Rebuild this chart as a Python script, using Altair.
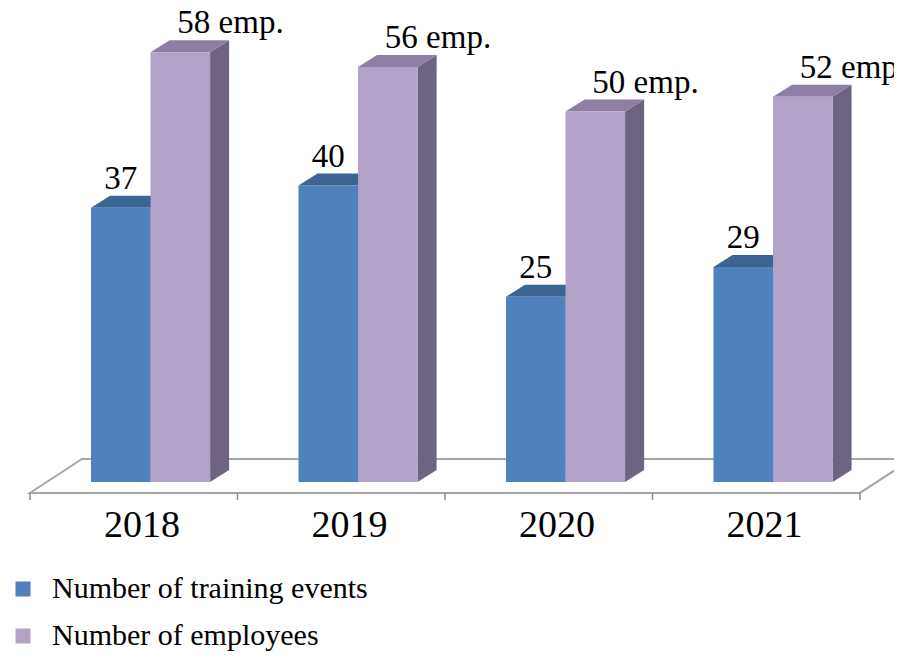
import altair as alt
import pandas as pd

# ---- data ----
years = ["2018", "2019", "2020", "2021"]
training_events = [37, 40, 25, 29]
employees = [58, 56, 50, 52]
series_names = ["Number of training events", "Number of employees"]
series_values = [training_events, employees]

# ---- pseudo-3D geometry (in scale units) ----
OFF = 0.294        # gap between a group's left edge and its first bar
W = 0.287          # bar width (group units)
DX = 0.0916        # depth offset along x
DY = 1.62          # depth offset along y (value units)
FLOOR_FRONT = -1.48
FLOOR_BACK = 3.10
FLOOR_DX = 0.25
TICK_LEN = 0.95

front_colors = ["#4F81BD", "#B3A2C7"]
top_colors = ["#3C6594", "#8E7EA3"]
side_colors = ["#2F4C72", "#6F6480"]

bars, tops, sides = [], [], []
for s, (name, vals) in enumerate(zip(series_names, series_values)):
    for i, (yr, v) in enumerate(zip(years, vals)):
        x0 = i + OFF + s * W
        x1 = x0 + W
        bid = f"{name}-{yr}"
        lab = f"{v} emp." if s == 1 else f"{v}"
        bars.append(dict(series=name, s=s, year=yr, v=v, base=0, x0=x0, x1=x1,
                         xc=(x0 + x1) / 2, label=lab))
        tops.append(dict(bar=bid, s=s, y=v, xa=x0, xb=x1))
        tops.append(dict(bar=bid, s=s, y=v + DY, xa=x0 + DX, xb=x1 + DX))
        sides.append(dict(bar=bid, s=s, x=x1, ya=0, yb=v))
        sides.append(dict(bar=bid, s=s, x=x1 + DX, ya=DY, yb=v + DY))

bars = pd.DataFrame(bars)
tops = pd.DataFrame(tops)
sides = pd.DataFrame(sides)
floor = pd.DataFrame([
    dict(y=FLOOR_FRONT, xa=0, xb=len(years)),
    dict(y=FLOOR_BACK, xa=FLOOR_DX, xb=len(years) + FLOOR_DX),
])
ticks = pd.DataFrame(dict(x=list(range(len(years) + 1)),
                          y1=[FLOOR_FRONT] * (len(years) + 1),
                          y2=[FLOOR_FRONT - TICK_LEN] * (len(years) + 1)))
year_df = pd.DataFrame(dict(year=years, xc=[i + 0.54 for i in range(len(years))],
                            base=[0] * len(years)))

xs = alt.Scale(domain=[-0.106, 4.164], nice=False, zero=False)
ys = alt.Scale(domain=[-23.08, 63.97], nice=False, zero=False)
FONT = "'Liberation Serif', 'Times New Roman', serif"

floor_layer = alt.Chart(floor).mark_area(
    orient="horizontal", fill="white", stroke="#A6A6A6", strokeWidth=2
).encode(
    y=alt.Y("y:Q", scale=ys, axis=None),
    x=alt.X("xa:Q", scale=xs, axis=None),
    x2="xb:Q",
)

tick_layer = alt.Chart(ticks).mark_rule(color="#8C8C8C", strokeWidth=1.5).encode(
    x=alt.X("x:Q", scale=xs, axis=None),
    y=alt.Y("y1:Q", scale=ys, axis=None),
    y2="y2:Q",
)

layers = [floor_layer, tick_layer]
for s in range(2):
    side = alt.Chart(sides[sides.s == s]).mark_area(color=side_colors[s]).encode(
        x=alt.X("x:Q", scale=xs, axis=None),
        y=alt.Y("ya:Q", scale=ys, axis=None),
        y2="yb:Q",
        detail="bar:N",
    )
    top = alt.Chart(tops[tops.s == s]).mark_area(orient="horizontal", color=top_colors[s]).encode(
        y=alt.Y("y:Q", scale=ys, axis=None),
        x=alt.X("xa:Q", scale=xs, axis=None),
        x2="xb:Q",
        detail="bar:N",
    )
    layers += [side, top]

front = alt.Chart(bars).mark_bar().encode(
    x=alt.X("x0:Q", scale=xs, axis=None),
    x2="x1:Q",
    y=alt.Y("v:Q", scale=ys, axis=None),
    y2="base:Q",
    color=alt.Color(
        "series:N",
        scale=alt.Scale(domain=series_names, range=front_colors),
        legend=alt.Legend(
            title=None, orient="none", direction="vertical",
            legendX=0, legendY=566, padding=0,
            symbolType="square", symbolSize=225, symbolStrokeWidth=0,
            labelFont=FONT, labelFontSize=30, labelColor="black",
            labelOffset=14, rowPadding=17, labelLimit=0,
        ),
    ),
)
layers.append(front)

blue_labels = alt.Chart(bars[bars.s == 0]).mark_text(
    font=FONT, fontSize=33, color="black", align="center", baseline="alphabetic", dy=-19
).encode(
    x=alt.X("xc:Q", scale=xs, axis=None),
    y=alt.Y("v:Q", scale=ys, axis=None),
    text="label:N",
)
purple_labels = alt.Chart(bars[bars.s == 1]).mark_text(
    font=FONT, fontSize=33, color="black", align="left", baseline="alphabetic", dy=-19, dx=-3
).encode(
    x=alt.X("xc:Q", scale=xs, axis=None),
    y=alt.Y("v:Q", scale=ys, axis=None),
    text="label:N",
)
year_labels = alt.Chart(year_df).mark_text(
    font=FONT, fontSize=38, color="black", align="center", baseline="alphabetic", dy=55
).encode(
    x=alt.X("xc:Q", scale=xs, axis=None),
    y=alt.Y("base:Q", scale=ys, axis=None),
    text="year:N",
)
layers += [blue_labels, purple_labels, year_labels]

chart = alt.layer(*layers).properties(
    width=886, height=645, padding=0,
    autosize=alt.AutoSizeParams(type="none"),
    background="white",
).configure(font=FONT).configure_view(stroke=None)

chart.save("out.html", embed_options={"renderer": "svg", "actions": False})
